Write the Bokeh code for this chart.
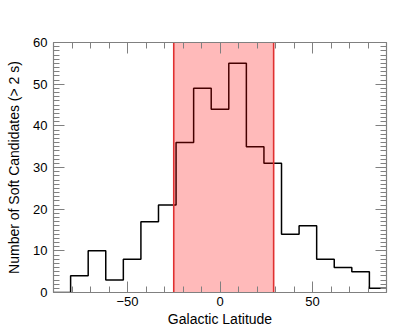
from bokeh.plotting import figure
from bokeh.models import (Range1d, SingleIntervalTicker, LinearAxis, BoxAnnotation,
                          Span, CustomJSTickFormatter)
from bokeh.embed import file_html
from bokeh.resources import INLINE

# Histogram data: bin edges (degrees) and counts
bin_edges = [-90.25, -80.75, -71.25, -61.75, -52.25, -42.75, -33.25, -23.75, -14.25,
             -4.75, 4.75, 14.25, 23.75, 33.25, 42.75, 52.25, 61.75, 71.25, 80.75, 90.25]
counts = [0, 4, 10, 3, 8, 17, 21, 36, 49, 44, 55, 35, 31, 14, 16, 8, 6, 5, 1]

# Highlighted latitude band
band_lo = -25
band_hi = 29

x_lim = (-90, 90)
y_lim = (0, 60)

FONT = "Liberation Sans"
AX = "#808080"

p = figure(frame_width=333, frame_height=250, output_backend="svg", toolbar_location=None,
           x_range=Range1d(*x_lim), y_range=Range1d(*y_lim),
           min_border_left=53, min_border_top=42, min_border_right=32, min_border_bottom=36)
p.grid.visible = False
p.outline_line_color = None
p.background_fill_color = "white"
p.border_fill_color = "white"

xt = SingleIntervalTicker(interval=50, num_minor_ticks=5)
yt = SingleIntervalTicker(interval=10, num_minor_ticks=10)
p.xaxis.ticker = xt
p.yaxis.ticker = yt


def style(ax, show_labels=True):
    ax.axis_line_color = AX
    ax.axis_line_width = 1.2
    ax.major_tick_line_color = AX
    ax.minor_tick_line_color = AX
    ax.major_tick_in = 11
    ax.major_tick_out = 0
    ax.minor_tick_in = 6
    ax.minor_tick_out = 0
    ax.major_label_text_font = FONT
    ax.major_label_text_font_size = "13px"
    ax.major_label_text_color = "black"
    ax.axis_label_text_font = FONT
    ax.axis_label_text_font_size = "14px"
    ax.axis_label_text_font_style = "normal"
    ax.axis_label_text_color = "black"
    if not show_labels:
        ax.formatter = CustomJSTickFormatter(code="return '';")


style(p.xaxis[0])
style(p.yaxis[0])
p.xaxis.axis_label = "Galactic Latitude"
p.yaxis.axis_label = "Number of Soft Candidates (> 2 s)"
p.xaxis.major_label_standoff = 4
p.yaxis.major_label_standoff = 6
p.xaxis.axis_label_standoff = 2
p.yaxis.axis_label_standoff = 8

top = LinearAxis(ticker=xt)
style(top, False)
p.add_layout(top, "above")
right = LinearAxis(ticker=yt)
style(right, False)
p.add_layout(right, "right")

step_y = counts + [counts[-1]]
hist = p.step(x=bin_edges, y=step_y, mode="after", line_color="black", line_width=1.5)
hist.level = "underlay"

band = BoxAnnotation(left=band_lo, right=band_hi, fill_color="red", fill_alpha=0.27,
                     line_color=None, level="glyph")
p.add_layout(band)
for b in (band_lo, band_hi):
    p.add_layout(Span(location=b, dimension="height", line_color="#e03030",
                      line_width=1.6, level="glyph"))

open("out.html", "w").write(file_html(p, INLINE))
